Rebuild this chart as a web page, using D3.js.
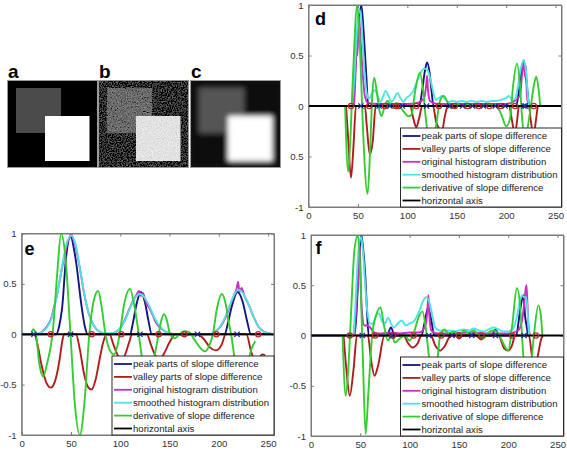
<!DOCTYPE html>
<html><head><meta charset="utf-8">
<script src="https://cdn.jsdelivr.net/npm/d3@7"></script>
<style>
body{margin:0;background:#fff}
svg{display:block}
text{font-family:"Liberation Sans",Arial,sans-serif}
</style>
</head><body>
<svg id="fig" width="567" height="452"></svg>
<script>
// ---------- shared axis data ----------
const xTicks = [0, 50, 100, 150, 200, 250];
const xTickLabels = ["0", "50", "100", "150", "200", "250"];
const yTicks = [-1, -0.5, 0, 0.5, 1];
const yTickLabelsD = ["-1", "0.5", "0", "0.5", "1"];
const yTickLabelsEF = ["-1", "-0.5", "0", "0.5", "1"];
const legendLabels = ["peak parts of slope difference", "valley parts of slope difference",
  "original histogram distribution", "smoothed histogram distribution",
  "derivative of slope difference", "horizontal axis"];
const panelLetters = ["a", "b", "c", "d", "e", "f"];

// ---------- panel d (noisy image) ----------
const dPeak = [[0,0],[44,0],[47,0.3],[50,0.75],[53.5,1.0],[56,0.7],[58.5,0.3],[60.5,0],[70,0],[71.5,0.02],[73,0],[112,0],[115,0.15],[117.5,0.33],[120,0.43],[122.5,0.33],[124.5,0.15],[126.5,0],[210,0],[213,0.15],[215.5,0.35],[218,0.45],[219.5,0.3],[220.5,0.25],[222,0.1],[223,0]];
const dValley = [[38,0],[40,-0.3],[43,-0.71],[45.5,-0.4],[48,0],[57,0],[59,-0.2],[62,-0.48],[65,-0.35],[68,0],[75,0],[77.3,-0.02],[79,0],[88,0],[89.5,-0.02],[91,0],[103,0],[106,-0.12],[109,-0.21],[112,-0.12],[115,0],[126,0],[129,-0.15],[132,-0.22],[135,-0.25],[138,-0.1],[141,0],[146,0],[148,-0.02],[150,0],[203,0],[206,-0.15],[208.9,-0.28],[211,-0.15],[213,0],[223,0],[225,-0.15],[227.8,-0.3],[230,-0.15],[232,0]];
const dOrig = [[46,0],[47.5,0.3],[48.5,0.7],[49.5,0.5],[51,0.9],[53,0.6],[55,0.3],[57,0.1],[60,0.03],[70,0.02],[80,0.02],[90,0.02],[100,0.02],[110,0.03],[117,0.08],[119,0.2],[120,0.3],[121,0.15],[123,0.05],[130,0.02],[150,0.02],[180,0.02],[200,0.02],[214,0.1],[216,0.3],[218,0.45],[219,0.3],[220,0.4],[221,0.1],[223,0]];
const dSmooth = [[44,0],[46.5,0.3],[49,0.75],[51,0.95],[53,0.9],[55,0.6],[57,0.3],[59,0.12],[61,0.07],[64,0.12],[67,0.16],[70,0.1],[73,0.04],[75,0.08],[78,0.15],[81,0.1],[84,0.04],[87,0.08],[90,0.13],[93,0.08],[96,0.04],[99,0.08],[102,0.1],[106,0.15],[110,0.25],[114,0.34],[117,0.37],[120,0.36],[123,0.28],[126,0.15],[129,0.06],[132,0.08],[135,0.1],[138,0.07],[142,0.04],[146,0.05],[150,0.04],[155,0.05],[160,0.04],[165,0.05],[170,0.04],[175,0.05],[180,0.04],[185,0.05],[190,0.05],[195,0.06],[200,0.08],[203,0.1],[206,0.06],[209,0.07],[212,0.2],[215,0.38],[217.5,0.45],[220,0.35],[222,0.1],[223,0]];
const dDeriv = [[37,0],[40.2,-0.65],[42,-0.4],[45,0.3],[49.3,1.0],[52,0.6],[55,-0.2],[59.8,-0.87],[62.5,-0.4],[64.5,0.1],[66.5,0.28],[69,0.15],[71.5,-0.03],[74,-0.1],[77,0],[80,0.05],[83,0.02],[86,-0.02],[89,0.03],[92,0.0],[96,-0.05],[101,-0.1],[104,-0.09],[108,0.15],[112.6,0.33],[116,0.15],[119,-0.15],[124,-0.35],[129,-0.2],[133,0.05],[136.9,0.1],[140,0.05],[144,-0.02],[150,0.02],[155,0],[160,0.02],[165,0.01],[170,-0.01],[175,0.01],[180,0],[185,0.02],[190,0],[195,-0.08],[200,-0.2],[204,-0.12],[207,0.2],[211,0.42],[214,0.2],[216,-0.1],[219,-0.35],[222,-0.2],[225,0],[228,0.2],[230.5,0.29],[233,0.15],[234.5,0]];
const dValleyMarks = [43, 61.4, 77.3, 88.5, 91, 109, 132, 148, 161, 172, 183, 194.5, 209, 228];
const dPeakMarks = [53, 71.5, 82.3, 95, 119.5, 143, 156, 166, 177, 189, 199, 218, 219.5];

// ---------- panel e (clean image) ----------
const ePeak = [[0,0],[35,0],[38,0.08],[41,0.26],[45,0.76],[49.5,0.97],[54.5,0.76],[61,0.26],[64,0.08],[67,0],[110,0],[113,0.12],[116.5,0.3],[121,0.42],[125,0.32],[128.5,0.14],[132,0],[206,0],[209,0.1],[213,0.27],[219,0.42],[224,0.33],[228.5,0.14],[232.5,0],[256,0]];
const eValley = [[0,0],[13,0],[16,-0.1],[20,-0.3],[25,-0.48],[29.5,-0.53],[34,-0.46],[38,-0.28],[41,-0.08],[43,0],[55,0],[59,-0.15],[63,-0.38],[67,-0.52],[71,-0.55],[75,-0.45],[79,-0.25],[83,-0.07],[86,0],[89,0],[93,-0.1],[97,-0.2],[101,-0.25],[105,-0.2],[109,-0.08],[112,0],[127,0],[131,-0.1],[135,-0.2],[139,-0.25],[144,-0.2],[150,-0.08],[156,0],[160,0],[165,-0.02],[170,0],[178,0],[185,-0.05],[191,-0.13],[197,-0.16],[203,-0.1],[207,0],[228,0],[233,-0.18],[237,-0.26],[240,-0.25],[244,-0.2],[247,-0.21]];
const eOrig = [[0,0],[15,0],[20,0.02],[25,0.07],[30,0.16],[33,0.28],[36,0.4],[38,0.5],[41,0.66],[44,0.8],[47,0.93],[49,0.97],[50,1.0],[52,0.95],[54,0.9],[57,0.76],[60,0.6],[63,0.42],[66,0.28],[70,0.15],[75,0.06],[80,0.02],[88,0],[95,0.02],[100,0.06],[105,0.15],[110,0.27],[114,0.35],[117,0.4],[119,0.43],[121,0.38],[123,0.41],[125,0.35],[127,0.3],[130,0.25],[133,0.19],[136,0.12],[140,0.07],[145,0.03],[150,0.01],[155,0],[192,0],[197,0.03],[202,0.08],[207,0.17],[212,0.3],[216,0.4],[218,0.45],[219.5,0.52],[221,0.42],[223,0.46],[226,0.38],[230,0.3],[235,0.18],[240,0.08],[245,0.03],[250,0.01],[256,0]];
const eSmooth = [[0,0],[10,0],[15,0.005],[20,0.02],[25,0.06],[30,0.15],[35,0.35],[40,0.62],[45,0.88],[50,0.98],[55,0.88],[60,0.6],[65,0.33],[70,0.15],[75,0.06],[80,0.02],[85,0.01],[90,0.01],[95,0.02],[100,0.06],[105,0.14],[110,0.26],[115,0.36],[120,0.4],[125,0.36],[130,0.27],[135,0.16],[140,0.08],[145,0.03],[150,0.01],[155,0],[190,0],[195,0.02],[200,0.06],[205,0.14],[210,0.26],[215,0.38],[220,0.44],[225,0.4],[230,0.3],[235,0.18],[240,0.08],[245,0.03],[250,0.01],[256,0]];
const eDeriv = [[10,0.02],[11.7,0.05],[14.4,0],[18,-0.3],[21.8,-0.42],[26,-0.28],[31.8,0.05],[36,0.6],[40,1.0],[44.5,0.75],[49.5,0],[54,-0.7],[59,-1.0],[63.5,-0.7],[68.6,0],[73,0.33],[77.6,0.43],[81,0.28],[85,0],[89,-0.15],[93.7,-0.2],[97,-0.12],[99.4,0],[104,0.3],[109.8,0.45],[114,0.3],[118.8,0],[123,-0.3],[128,-0.45],[133,-0.3],[138.9,0],[142,0.15],[144.6,0.2],[147,0.15],[150.6,0],[155,-0.04],[160,0],[165,0.03],[170,0.02],[175,-0.05],[180,-0.12],[186,-0.17],[190,-0.12],[194,0],[198,0.25],[203,0.4],[207,0.3],[210,0.12],[212.5,0],[217,-0.3],[223,-0.45],[229,-0.3],[233,-0.15],[237,-0.07]];
const eValleyMarks = [29.5, 71, 101, 139, 165, 197.5, 240];
const ePeakMarks = [12.4, 49.5, 120, 178.4, 218.5];

// ---------- panel f (blurred image) ----------
const fPeak = [[0,0],[44,0],[46,0.2],[48.5,0.7],[51,1.0],[53,0.85],[55,0.6],[57,0.2],[58.5,0],[77,0],[81,0.08],[85,0],[112,0],[115,0.12],[118.8,0.28],[122,0.15],[125,0],[140,0],[143,0.03],[146,0],[160,0],[163,0.04],[166,0],[183,0],[187,0.06],[191,0],[208,0],[212,0.25],[215.4,0.4],[217,0.2],[218.8,0.08],[220,0]];
const fValley = [[33,0],[36,-0.35],[39.3,-0.6],[43,-0.35],[46.6,0],[57.7,0],[61,-0.25],[64.4,-0.4],[68,-0.3],[74.5,0],[80,0],[83,-0.02],[86,0],[94,0],[98,-0.07],[103,-0.12],[108,-0.08],[112,0],[121.5,0],[126,-0.1],[131,-0.15],[136,-0.1],[141.6,0],[147,0],[150,-0.03],[154,0],[167,0],[172.8,-0.04],[177,0],[190,0],[196,-0.13],[200,-0.15],[203.7,-0.1],[207,0],[221,0],[224,-0.2],[227,-0.3],[230,-0.2],[233,-0.05],[235,0]];
const fOrig = [[44,0],[46,0.3],[48,0.6],[49.5,0.9],[50.5,0.5],[52,0.2],[54,0.1],[57,0.1],[60,0.08],[63,0.04],[66,0.02],[72,0.02],[80,0.03],[90,0.02],[100,0.03],[110,0.03],[116,0.1],[118,0.25],[119,0.4],[120,0.2],[122,0.05],[128,0.02],[140,0.02],[160,0.03],[180,0.02],[200,0.02],[210,0.05],[214,0.15],[216,0.3],[217.5,0.45],[218.5,0.5],[219.5,0.3],[220.5,0.1],[222,0]];
const fSmooth = [[43,0],[45,0.3],[47,0.7],[49,0.92],[51,0.98],[53,0.8],[55,0.5],[57,0.25],[60,0.12],[63,0.12],[66,0.2],[69,0.22],[72,0.14],[75,0.12],[78,0.18],[81,0.12],[84,0.08],[88,0.12],[92,0.15],[96,0.1],[100,0.12],[105,0.15],[110,0.25],[114,0.35],[117,0.38],[120,0.33],[123,0.2],[126,0.08],[130,0.05],[135,0.04],[140,0.05],[145,0.04],[150,0.05],[155,0.06],[160,0.05],[165,0.07],[170,0.05],[175,0.04],[180,0.06],[185,0.08],[190,0.06],[195,0.04],[200,0.04],[205,0.07],[209,0.2],[212,0.35],[214,0.4],[216,0.38],[218,0.38],[219.5,0.25],[221,0]];
const fDeriv = [[32,0],[35.2,-0.6],[38,-0.3],[41,0.3],[44,0.85],[47.7,1.0],[50,0.6],[52.5,-0.2],[55.4,-0.98],[58,-0.6],[62,0],[66,0.2],[70.5,0.28],[74,0.1],[78,-0.05],[82,0],[85,-0.07],[90,-0.03],[95,0],[100,-0.05],[105,0.05],[109,0.18],[113,0.24],[116,0.1],[119.8,-0.22],[124,-0.4],[128,-0.25],[131,0],[135,0.06],[140,0.02],[145,0.04],[150,0],[155,0.05],[160,0.02],[165,0.05],[170,0],[175,-0.03],[180,0.03],[185,0.05],[190,0.02],[195,-0.08],[200,-0.15],[204,0.1],[208.7,0.47],[212,0.3],[215.4,-0.22],[219,-0.45],[223,-0.3],[226,0],[230.5,0.3],[233,0.2],[234.6,0]];
const fValleyMarks = [39.3, 65, 83, 104, 132, 150, 173, 204, 228];
const fPeakMarks = [52, 82, 119.5, 143, 163, 187, 216];

// ---------- styles ----------
const seriesColors = ["#141482", "#b01c1c", "#c830c0", "#4fe3e3", "#32cd32", "#000000"];
const axisColor = "#7a7a7a";
const labelColor = "#333";

const svg = d3.select("#fig");
const defs = svg.append("defs");

// ---------- images a, b, c ----------
const imgW = 91, imgH = 88;
const images = [
  {x: 7,   y: 80, bg: "#000", gray: "#4b4b4b", white: "#ffffff", kind: "clean"},
  {x: 98,  y: 80, bg: "#303030", gray: "#6c6c6c", white: "#e2e2e2", kind: "noise"},
  {x: 190, y: 80, bg: "#111", gray: "#555", white: "#ffffff", kind: "blur"}
];
const fN = defs.append("filter").attr("id","noiseF").attr("x",0).attr("y",0).attr("width",1).attr("height",1);
fN.append("feTurbulence").attr("type","fractalNoise").attr("baseFrequency",0.8).attr("numOctaves",2).attr("seed",4).attr("result","t");
fN.append("feColorMatrix").attr("in","t").attr("type","matrix")
  .attr("values","0.33 0.33 0.33 0 0 0.33 0.33 0.33 0 0 0.33 0.33 0.33 0 0 0 0 0 0 1").attr("result","g");
fN.append("feComposite").attr("in","SourceGraphic").attr("in2","g").attr("operator","arithmetic")
  .attr("k1",0).attr("k2",1).attr("k3",0.75).attr("k4",-0.375);
const fB = defs.append("filter").attr("id","blurF").attr("x",-0.2).attr("y",-0.2).attr("width",1.4).attr("height",1.4);
fB.append("feGaussianBlur").attr("stdDeviation",2.6);

images.forEach((im, i) => {
  const cid = "imgclip" + i;
  defs.append("clipPath").attr("id", cid).append("rect")
    .attr("x", im.x).attr("y", im.y).attr("width", imgW).attr("height", imgH);
  const g = svg.append("g").attr("clip-path", `url(#${cid})`);
  g.append("rect").attr("x", im.x).attr("y", im.y).attr("width", imgW).attr("height", imgH).attr("fill", im.bg);
  const inner = g.append("g");
  if (im.kind === "noise") inner.attr("filter", "url(#noiseF)");
  if (im.kind === "blur") inner.attr("filter", "url(#blurF)");
  inner.append("rect").attr("x", im.x).attr("y", im.y).attr("width", imgW).attr("height", imgH).attr("fill", im.bg);
  inner.append("rect").attr("x", im.x + 9).attr("y", im.y + 8).attr("width", 45).attr("height", 45).attr("fill", im.gray);
  inner.append("rect").attr("x", im.x + 38).attr("y", im.y + 36).attr("width", 44.5).attr("height", 45).attr("fill", im.white);
  svg.append("rect").attr("x", im.x + 0.5).attr("y", im.y + 0.5).attr("width", imgW - 1).attr("height", imgH - 1)
    .attr("fill", "none").attr("stroke", "#9a9a9a").attr("stroke-width", 1);
  svg.append("text").attr("x", im.x + 1).attr("y", 78).attr("font-size", 19).attr("font-weight", "bold")
    .attr("fill", "#000").text(panelLetters[i]);
});

// ---------- chart panels ----------
const panels = [
  {id: "d", left: 308.5, right: 561.5, top: 5, bottom: 207, letter: panelLetters[3], lx: 315, ly: 25,
   yLabels: yTickLabelsD, legW: 161,
   series: [dPeak, dValley, dOrig, dSmooth, dDeriv], vMarks: dValleyMarks, pMarks: dPeakMarks},
  {id: "e", left: 21.7, right: 274, top: 233.5, bottom: 435, letter: panelLetters[4], lx: 24.5, ly: 255,
   yLabels: yTickLabelsEF, legW: 162,
   series: [ePeak, eValley, eOrig, eSmooth, eDeriv], vMarks: eValleyMarks, pMarks: ePeakMarks},
  {id: "f", left: 311, right: 563.5, top: 235, bottom: 436, letter: panelLetters[5], lx: 315.5, ly: 254,
   yLabels: yTickLabelsEF, legW: 163,
   series: [fPeak, fValley, fOrig, fSmooth, fDeriv], vMarks: fValleyMarks, pMarks: fPeakMarks}
];

panels.forEach(p => {
  const x = d3.scaleLinear().domain([0, 256]).range([p.left, p.right]);
  const y = d3.scaleLinear().domain([-1, 1]).range([p.bottom, p.top]);
  const cid = "clip" + p.id;
  defs.append("clipPath").attr("id", cid).append("rect")
    .attr("x", p.left).attr("y", p.top).attr("width", p.right - p.left).attr("height", p.bottom - p.top);
  const g = svg.append("g");

  const styleAxis = sel => {
    sel.selectAll("path.domain").attr("stroke", axisColor).attr("stroke-width", 1);
    sel.selectAll(".tick line").attr("stroke", axisColor);
    sel.selectAll(".tick text").attr("fill", labelColor).attr("font-size", 9.6)
      .attr("font-family", '"Liberation Sans",Arial,sans-serif');
  };
  g.append("g").attr("transform", `translate(0,${p.bottom})`)
    .call(d3.axisBottom(x).tickValues(xTicks).tickFormat((d, i) => xTickLabels[i]).tickSizeInner(-3).tickSizeOuter(0).tickPadding(5))
    .call(styleAxis);
  g.append("g").attr("transform", `translate(0,${p.top})`)
    .call(d3.axisTop(x).tickValues(xTicks).tickFormat("").tickSizeInner(-3).tickSizeOuter(0))
    .call(styleAxis);
  g.append("g").attr("transform", `translate(${p.left},0)`)
    .call(d3.axisLeft(y).tickValues(yTicks).tickFormat((d, i) => p.yLabels[i]).tickSizeInner(-3).tickSizeOuter(0).tickPadding(5))
    .call(styleAxis);
  g.append("g").attr("transform", `translate(${p.right},0)`)
    .call(d3.axisRight(y).tickValues(yTicks).tickFormat("").tickSizeInner(-3).tickSizeOuter(0))
    .call(styleAxis);

  const plot = g.append("g").attr("clip-path", `url(#${cid})`);
  const line = d3.line().x(d => x(d[0])).y(d => y(d[1])).curve(d3.curveMonotoneX);
  p.series.forEach((s, i) => {
    plot.append("path").datum(s).attr("d", line).attr("fill", "none")
      .attr("stroke", seriesColors[i]).attr("stroke-width", 1.9).attr("stroke-linejoin", "round");
  });
  // horizontal axis
  plot.append("path").datum([[0, 0], [256, 0]]).attr("d", d3.line().x(d => x(d[0])).y(d => y(d[1])))
    .attr("stroke", seriesColors[5]).attr("stroke-width", 2);
  // markers
  plot.selectAll("circle.vm").data(p.vMarks).join("circle").attr("class", "vm")
    .attr("cx", d => x(d)).attr("cy", y(0)).attr("r", 2.6)
    .attr("fill", "none").attr("stroke", "#c0282a").attr("stroke-width", 1.3);
  const xs = 2.6;
  plot.selectAll("path.pm").data(p.pMarks).join("path").attr("class", "pm")
    .attr("d", d => `M${x(d)-xs},${y(0)-xs}L${x(d)+xs},${y(0)+xs}M${x(d)-xs},${y(0)+xs}L${x(d)+xs},${y(0)-xs}`)
    .attr("stroke", "#1a2a9a").attr("stroke-width", 1.3);

  // box
  g.append("rect").attr("x", p.left).attr("y", p.top).attr("width", p.right - p.left).attr("height", p.bottom - p.top)
    .attr("fill", "none").attr("stroke", axisColor).attr("stroke-width", 1);

  // letter
  g.append("text").attr("x", p.lx).attr("y", p.ly).attr("font-size", 18).attr("font-weight", "bold")
    .attr("fill", "#000").text(p.letter);

  // legend
  const rowH = 12.9, legH = 79;
  const lx0 = p.right - p.legW, ly0 = p.bottom - legH;
  const lg = g.append("g");
  lg.append("rect").attr("x", lx0).attr("y", ly0).attr("width", p.legW).attr("height", legH)
    .attr("fill", "#fff").attr("stroke", "#2a2a2a").attr("stroke-width", 1);
  legendLabels.forEach((lab, i) => {
    const cy = ly0 + 8 + i * rowH;
    lg.append("line").attr("x1", lx0 + 2).attr("x2", lx0 + 20).attr("y1", cy).attr("y2", cy)
      .attr("stroke", seriesColors[i]).attr("stroke-width", 1.8);
    lg.append("text").attr("x", lx0 + 21).attr("y", cy + 3.4).attr("font-size", 9.6)
      .attr("fill", "#222").text(lab);
  });
});
</script>
</body></html>
